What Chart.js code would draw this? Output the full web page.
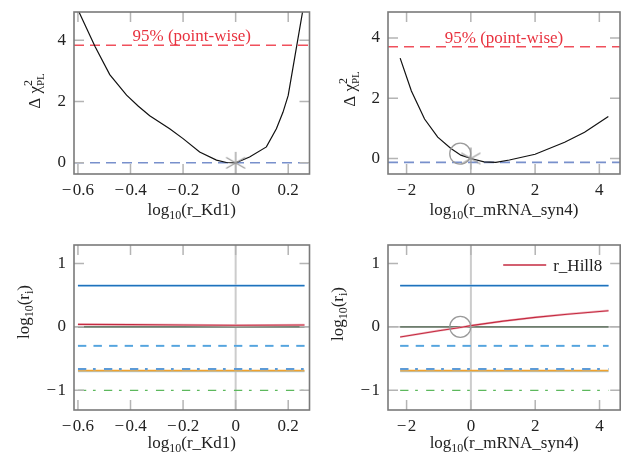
<!DOCTYPE html>
<html>
<head>
<meta charset="utf-8">
<script src="https://cdn.jsdelivr.net/npm/chart.js@4.4.1/dist/chart.umd.min.js"></script>
<style>
  body { margin: 0; background: #fff; }
  #wrap { position: relative; width: 632px; height: 454px; }
  #wrap canvas { position: absolute; left: 0; top: 0; }
</style>
</head>
<body>
<div id="wrap">
  <canvas id="pleKd1" width="632" height="454"></canvas>
  <canvas id="pleSyn4" width="632" height="454"></canvas>
  <canvas id="pathKd1" width="632" height="454"></canvas>
  <canvas id="pathSyn4" width="632" height="454"></canvas>
</div>
<script>
const serif = '"Liberation Serif", "DejaVu Serif", serif';

// profile likelihood of r_Kd1
const kd1X    = [-0.6, -0.535, -0.479, -0.415, -0.37, -0.327, -0.251, -0.2, -0.137, -0.073, -0.035, 0, 0.053, 0.117, 0.155, 0.18, 0.2, 0.232, 0.262];
const kd1Chi2 = [5.0, 3.80, 2.88, 2.21, 1.85, 1.54, 1.11, 0.79, 0.355, 0.09, 0.01, 0, 0.19, 0.52, 1.11, 1.65, 2.2, 3.8, 5.3];
const kd1Thresh = 3.84;
const kd1Min = 0;

// profile likelihood of r_mRNA_syn4
const synX    = [-2.2, -1.85, -1.44, -1.03, -0.62, -0.31, 0, 0.41, 0.78, 1.2, 2.0, 2.92, 3.54, 4.28];
const synChi2 = [3.33, 2.24, 1.31, 0.71, 0.33, 0.11, 0, -0.11, -0.13, -0.05, 0.14, 0.54, 0.87, 1.39];
const synThresh = 3.71;
const synMin = -0.13;
const synStart = { x: -0.33, y: 0.16 };

// r_Hill8 along each profile
const kd1PathX  = [-0.6, -0.4, -0.2, 0, 0.262];
const kd1Hill8  = [0.04, 0.035, 0.03, 0.025, 0.03];
const synPathX  = [-2.2, -1, -0.33, 0, 1, 2, 3, 4.28];
const synHill8  = [-0.16, -0.06, -0.01, 0.02, 0.09, 0.15, 0.2, 0.255];

// log10 values of the remaining parameters, flat along both profiles
const paramLevels = [0.65, 0, -0.3, -0.665, -0.69, -0.705, -1.0];

// tick positions
const kd1Ticks  = [-0.6, -0.4, -0.2, 0, 0.2];
const synTicks  = [-2, 0, 2, 4];
const chiTicks  = [0, 2, 4];
const logTicks  = [-1, 0, 1];

// line styles for paramLevels (same order)
const levelStyles = [
  { color: '#1f72bc', light: '#9cc6ea', dash: [] },
  { color: '#6e7e6e', light: null, dash: [], width: 1.6 },
  { color: '#3a95d8', light: '#a6d0f0', dash: [8.3, 7.3] },
  { color: '#1c6cc0', light: '#9cc8ec', dash: [8.3, 6.7, 2.7, 8.3] },
  { color: '#f0a22e', light: null, dash: [], width: 1.6 },
  { color: '#a4d0f0', light: null, dash: [], width: 1.5 },
  { color: '#5cb85c', light: null, dash: [8.3, 6.7, 2.7, 8.3], width: 1.3 }
];

const pts = (xs, ys) => xs.map((x, i) => ({ x, y: ys[i] }));
const fmtTick = v => (v < 0 ? '\u2212\u200a' + Math.abs(v) : String(v));

// gray asterisk marker
function asteriskMark(r, color) {
  const c = document.createElement('canvas');
  c.width = c.height = 2 * r + 4;
  const g = c.getContext('2d');
  g.strokeStyle = color;
  g.lineWidth = 1.3;
  g.translate(r + 2, r + 2);
  g.beginPath();
  for (let k = 0; k < 3; k++) {
    const a = Math.PI / 2 + k * Math.PI / 3;
    g.moveTo(r * Math.cos(a), r * Math.sin(a));
    g.lineTo(-r * Math.cos(a), -r * Math.sin(a));
  }
  g.stroke();
  return c;
}
const star = asteriskMark(11, '#9a9a9a');

// text with sub/superscripts: parts = [{t, s, dy, adv}]
function richWidth(ctx, parts) {
  let w = 0;
  parts.forEach(p => {
    ctx.font = (p.s || 17) + 'px ' + serif;
    if (p.adv !== false) w += ctx.measureText(p.t).width;
  });
  return w;
}
function drawRich(ctx, parts, x, y) {
  let cx = x - richWidth(ctx, parts) / 2;
  parts.forEach(p => {
    ctx.font = (p.s || 17) + 'px ' + serif;
    ctx.fillText(p.t, cx, y + (p.dy || 0));
    if (p.adv !== false) cx += ctx.measureText(p.t).width;
  });
}

const chiTitle = [{ t: '\u0394 \u03c7' }, { t: '2', s: 12, dy: -8, adv: false }, { t: 'PL', s: 11, dy: 4 }];
const riTitle  = [{ t: 'log' }, { t: '10', s: 12, dy: 4 }, { t: '(r' }, { t: 'i', s: 12, dy: 4 }, { t: ')' }];
const kd1Title = [{ t: 'log' }, { t: '10', s: 12, dy: 4 }, { t: '(r_Kd1)' }];
const synTitle = [{ t: 'log' }, { t: '10', s: 12, dy: 4 }, { t: '(r_mRNA_syn4)' }];

// frame, inner ticks, axis titles, threshold caption, legend entry
const panelDecor = {
  id: 'panelDecor',
  afterDatasetsDraw(chart, args, o) {
    const { ctx, chartArea: a, scales: { x, y } } = chart;
    ctx.save();
    ctx.strokeStyle = '#b4b4b4';
    ctx.lineWidth = 1.5;
    ctx.beginPath();
    x.ticks.forEach(t => {
      const px = x.getPixelForValue(t.value);
      ctx.moveTo(px, a.top); ctx.lineTo(px, a.top + 10);
      ctx.moveTo(px, a.bottom); ctx.lineTo(px, a.bottom - 10);
    });
    y.ticks.forEach(t => {
      const py = y.getPixelForValue(t.value);
      ctx.moveTo(a.left, py); ctx.lineTo(a.left + 10, py);
      ctx.moveTo(a.right, py); ctx.lineTo(a.right - 10, py);
    });
    ctx.stroke();
    ctx.strokeStyle = '#7a7a7a';
    ctx.lineWidth = 1.6;
    ctx.strokeRect(a.left, a.top, a.right - a.left, a.bottom - a.top);

    ctx.fillStyle = '#222';
    ctx.textBaseline = 'alphabetic';
    ctx.textAlign = 'left';
    drawRich(ctx, o.xTitle, (a.left + a.right) / 2, a.bottom + o.xTitleOffset);
    ctx.save();
    ctx.translate(a.left - o.yTitleOffset, o.yTitleCenter);
    ctx.rotate(-Math.PI / 2);
    drawRich(ctx, o.yTitle, 0, 0);
    ctx.restore();

    if (o.thresh !== undefined) {
      ctx.fillStyle = '#e8323f';
      ctx.font = '17px ' + serif;
      ctx.textAlign = 'center';
      ctx.fillText('95% (point-wise)', (a.left + a.right) / 2, y.getPixelForValue(o.thresh) - 4);
    }

    if (o.legend) {
      const ly = a.top + 20;
      ctx.strokeStyle = o.legend.color;
      ctx.lineWidth = 1.3;
      ctx.beginPath();
      ctx.moveTo(a.right - 117, ly);
      ctx.lineTo(a.right - 74, ly);
      ctx.stroke();
      ctx.fillStyle = '#222';
      ctx.font = '17px ' + serif;
      ctx.textAlign = 'left';
      ctx.fillText(o.legend.text, a.right - 67, ly + 6);
    }
    ctx.restore();
  }
};

// drop the label overhang padding so the plot box lands where the layout says
const noOverhang = s => { s.paddingTop = s.paddingBottom = s.paddingLeft = s.paddingRight = 0; };

function axes(xr, yr, xt, yt, xPad) {
  const tickFont = { family: serif, size: 17 };
  return {
    x: {
      type: 'linear', min: xr[0], max: xr[1],
      afterBuildTicks: s => { s.ticks = xt.map(v => ({ value: v })); },
      afterFit: s => { s.height = 30; noOverhang(s); },
      grid: { display: false }, border: { display: false },
      ticks: { callback: fmtTick, font: tickFont, color: '#222', padding: xPad, maxRotation: 0, autoSkip: false }
    },
    y: {
      type: 'linear', min: yr[0], max: yr[1],
      afterBuildTicks: s => { s.ticks = yt.map(v => ({ value: v })); },
      afterFit: s => { s.width = 40; noOverhang(s); },
      grid: { display: false }, border: { display: false },
      ticks: { callback: fmtTick, font: tickFont, color: '#222', padding: 0, autoSkip: false }
    }
  };
}

function makePanel(id, area, scales, datasets, decor) {
  const chart = new Chart(document.getElementById(id), {
    type: 'scatter',
    data: { datasets },
    options: {
      responsive: false,
      animation: false,
      layout: { padding: { left: area[0] - 40, right: 632 - area[1], top: area[2], bottom: 454 - area[3] - 30 } },
      scales,
      plugins: {
        legend: { display: false },
        tooltip: { enabled: false },
        panelDecor: decor
      }
    },
    plugins: [panelDecor]
  });
  // nudge the padding until the chart area sits on the wanted box
  for (let k = 0; k < 4; k++) {
    const a = chart.chartArea, p = chart.options.layout.padding;
    const dl = area[0] - a.left, dr = a.right - area[1], dt = area[2] - a.top, db = a.bottom - area[3];
    if (Math.abs(dl) + Math.abs(dr) + Math.abs(dt) + Math.abs(db) < 0.2) break;
    p.left += dl; p.right += dr; p.top += dt; p.bottom += db;
    chart.update();
  }
  return chart;
}

function hline(xr, v, color, dash, width) {
  return { data: [{ x: xr[0], y: v }, { x: xr[1], y: v }], showLine: true, borderColor: color,
           borderDash: dash, borderWidth: width, pointRadius: 0 };
}

// ---------- profile panels ----------
const kd1Range = [-0.615, 0.281];
const synRange = [-2.578, 4.643];

makePanel('pleKd1', [74, 309.5, 10, 174], axes(kd1Range, [-0.365, 4.926], kd1Ticks, chiTicks, -2), [
  { data: [{ x: 0, y: kd1Min }], pointStyle: star, pointRadius: 11 },
  { data: pts(kd1X, kd1Chi2), showLine: true, borderColor: '#111', borderWidth: 1.2, pointRadius: 0 },
  hline(kd1Range, kd1Thresh, '#f0505c', [10, 6], 1.4),
  hline(kd1Range, kd1Min, '#7890cc', [10, 6], 1.6)
], { xTitle: kd1Title, xTitleOffset: 41, yTitle: chiTitle, yTitleOffset: 34.5, yTitleCenter: 91, thresh: kd1Thresh });

makePanel('pleSyn4', [388, 622.7, 10, 174], axes(synRange, [-0.515, 4.862], synTicks, chiTicks, -2), [
  { data: [{ x: 0, y: 0 }], pointStyle: star, pointRadius: 11 },
  { data: [synStart], pointStyle: 'circle', pointRadius: 10.5, borderColor: '#9a9a9a', borderWidth: 1.3, backgroundColor: 'rgba(0,0,0,0)' },
  { data: pts(synX, synChi2), showLine: true, borderColor: '#111', borderWidth: 1.2, pointRadius: 0 },
  hline(synRange, synThresh, '#f0505c', [10, 6], 1.4),
  hline(synRange, synMin, '#7890cc', [10, 6], 1.6)
], { xTitle: synTitle, xTitleOffset: 41, yTitle: chiTitle, yTitleOffset: 33, yTitleCenter: 89, thresh: synThresh });

// ---------- parameter path panels ----------
const pathY = [-1.31, 1.29];

function pathSets(xr, full, hillX, hillY) {
  const sets = [];
  sets.push({ data: pts(hillX, hillY), showLine: true, borderColor: '#c42a40', borderWidth: 1.1, pointRadius: 0 });
  sets.push({ data: pts(hillX, hillY), showLine: true, borderColor: '#f0b8c0', borderWidth: 2.2, pointRadius: 0 });
  paramLevels.forEach((v, i) => {
    const st = levelStyles[i];
    sets.push(hline(xr, v, st.color, st.dash, st.width || 1.1));
    if (st.light) sets.push(hline(xr, v, st.light, st.dash, 2.3));
  });
  // light reference cross through the origin
  sets.push(hline(full, 0, '#c8c8c8', [], 1.6));
  sets.push({ data: [{ x: 0, y: pathY[0] }, { x: 0, y: pathY[1] }], showLine: true,
              borderColor: '#cccccc', borderWidth: 2, pointRadius: 0 });
  return sets;
}

makePanel('pathKd1', [74, 309.5, 245, 410], axes(kd1Range, pathY, kd1Ticks, logTicks, -2),
  pathSets([kd1PathX[0], kd1PathX[kd1PathX.length - 1]], kd1Range, kd1PathX, kd1Hill8),
  { xTitle: kd1Title, xTitleOffset: 38, yTitle: riTitle, yTitleOffset: 45.5, yTitleCenter: 312 });

const synPathSets = pathSets([synPathX[0], synPathX[synPathX.length - 1]], synRange, synPathX, synHill8);
synPathSets.unshift({ data: [{ x: synStart.x, y: 0 }], pointStyle: 'circle', pointRadius: 10.5,
                      borderColor: '#9a9a9a', borderWidth: 1.3, backgroundColor: 'rgba(0,0,0,0)' });

makePanel('pathSyn4', [388, 622.7, 245, 410], axes(synRange, pathY, synTicks, logTicks, -2), synPathSets,
  { xTitle: synTitle, xTitleOffset: 38, yTitle: riTitle, yTitleOffset: 45, yTitleCenter: 314,
    legend: { text: 'r_Hill8', color: '#c42a40' } });
</script>
</body>
</html>
